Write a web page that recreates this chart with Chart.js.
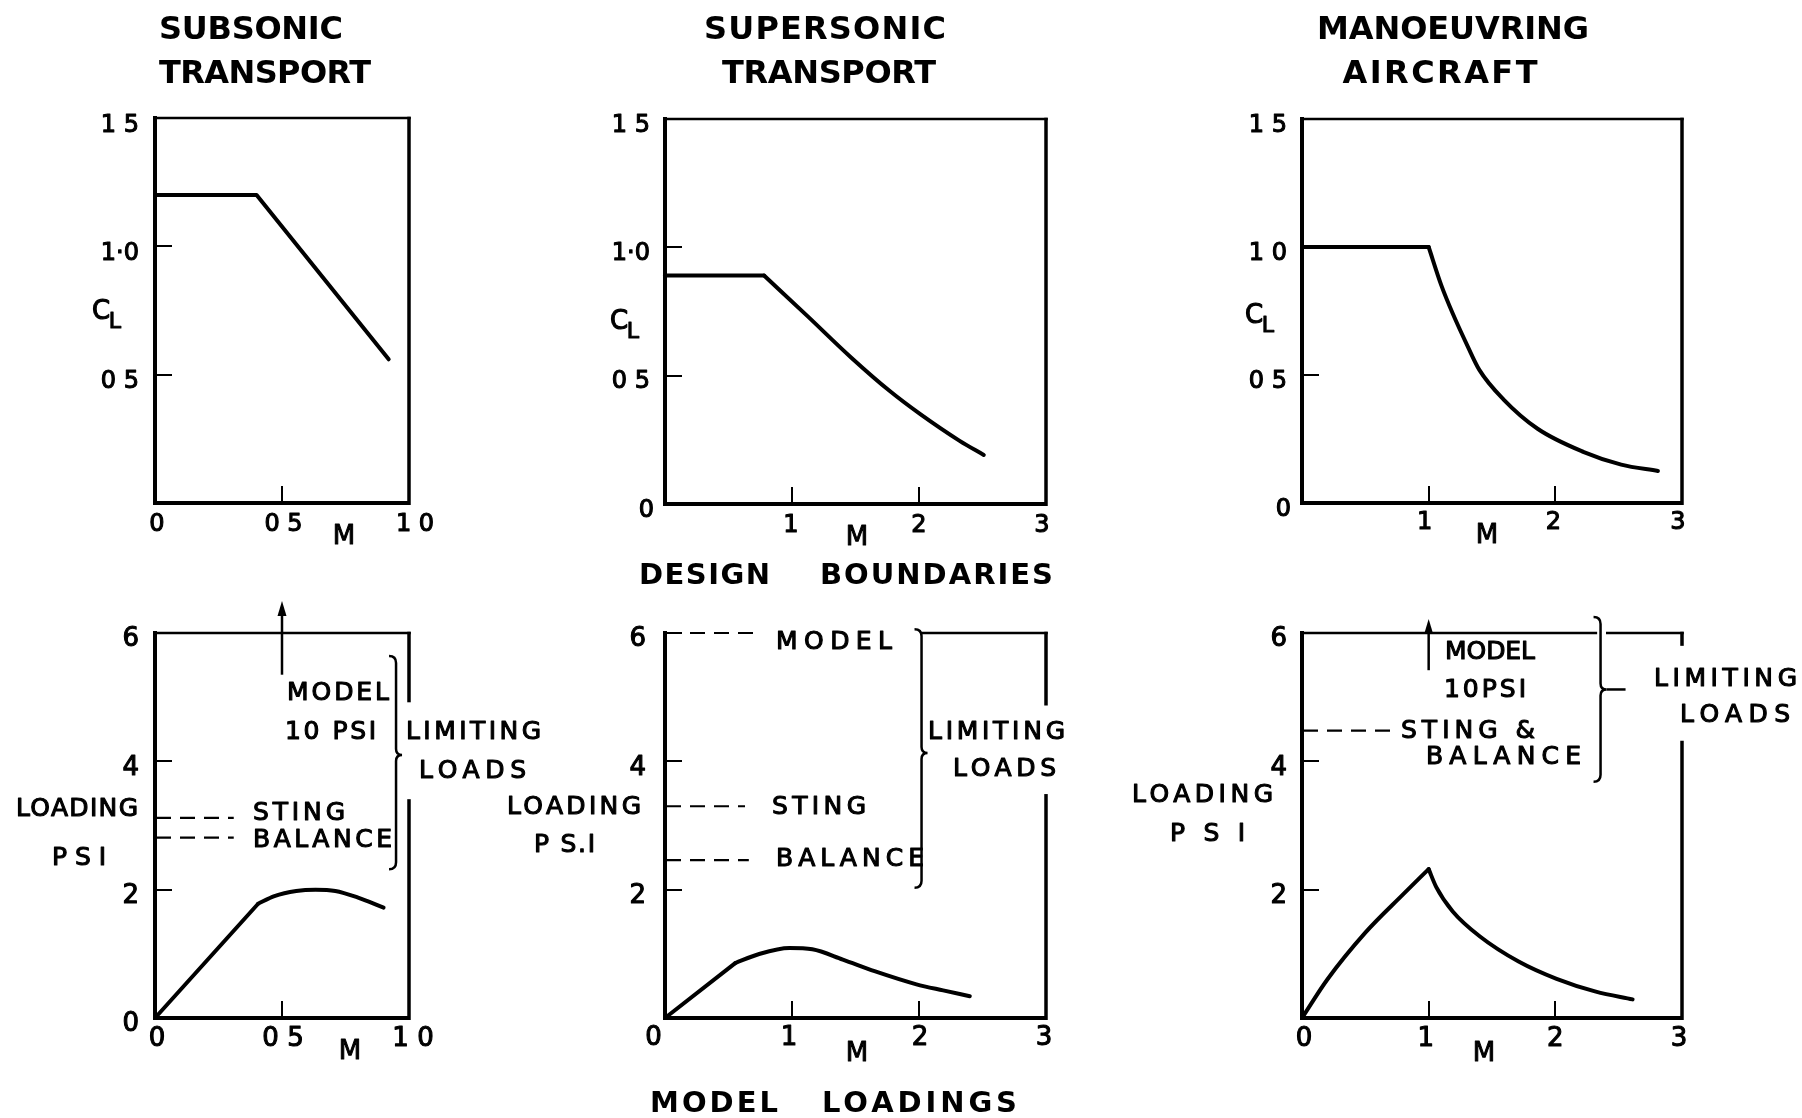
<!DOCTYPE html>
<html>
<head>
<meta charset="utf-8">
<script src="https://cdn.jsdelivr.net/npm/chart.js@4/dist/chart.umd.min.js"></script>
<style>
  html, body { margin: 0; padding: 0; background: #fff; }
  #sheet { position: relative; width: 1802px; height: 1118px; overflow: hidden; background: #fff; }
  #sheet canvas { position: absolute; left: 0; top: 0; }
</style>
</head>
<body>
<div id="sheet"></div>
<script>
// ---------------- Design boundaries: C_L against Mach number ----------------
const subsonicBoundaryM  = [0, 0.40, 0.92];
const subsonicBoundaryCL = [1.20, 1.20, 0.56];

const supersonicFlatM  = [0, 0.78];
const supersonicFlatCL = [0.89, 0.89];
const supersonicFallM  = [0.78, 1.12, 1.465, 1.77, 2.01, 2.32, 2.51];
const supersonicFallCL = [0.89, 0.733, 0.571, 0.44, 0.35, 0.246, 0.191];

const manoeuvreFlatM  = [0, 1.0];
const manoeuvreFlatCL = [1.0, 1.0];
const manoeuvreFallM  = [1.0, 1.10, 1.19, 1.31, 1.40, 1.59, 1.86, 2.22, 2.52, 2.81];
const manoeuvreFallCL = [1.0, 0.85, 0.74, 0.61, 0.52, 0.405, 0.29, 0.20, 0.15, 0.125];

// ---------------- Model loadings (psi) against Mach number ----------------
const subsonicRiseM     = [0, 0.406];
const subsonicRiseLoad  = [0, 1.78];
const subsonicCrestM    = [0.406, 0.47, 0.556, 0.632, 0.71, 0.797, 0.90];
const subsonicCrestLoad = [1.78, 1.90, 1.98, 2.00, 1.98, 1.88, 1.72];

const supersonicRiseM     = [0, 0.553];
const supersonicRiseLoad  = [0, 0.856];
const supersonicCrestM    = [0.553, 0.736, 0.98, 1.16, 1.40, 1.65, 1.98, 2.19, 2.40];
const supersonicCrestLoad = [0.856, 0.994, 1.09, 1.07, 0.91, 0.73, 0.525, 0.43, 0.34];

const manoeuvreRiseM    = [0, 0.2, 0.5, 0.8, 1.0];
const manoeuvreRiseLoad = [0, 0.6, 1.33, 1.93, 2.32];
const manoeuvreDropM    = [1.0, 1.06, 1.19, 1.405, 1.71, 2.01, 2.32, 2.61];
const manoeuvreDropLoad = [2.32, 2.04, 1.66, 1.27, 0.88, 0.61, 0.41, 0.29];

// Limiting loads (psi): dashed levels and where each dash run ends (M)
const subsonicLimitLoads  = [3.12, 2.81];          // sting, balance
const subsonicLimitEndM   = [0.31, 0.31];
const supersonicLimitLoads = [6.0, 3.3, 2.46];     // model, sting, balance
const supersonicLimitEndM  = [0.70, 0.63, 0.66];
const manoeuvreLimitLoads  = [4.48];               // sting & balance
const manoeuvreLimitEndM   = [0.71];

// Model limit (10 psi) is off scale: arrow runs from / to these loads
const subsonicModelArrow  = { m: 0.5, from: 5.35, to: 6.5 };
const manoeuvreModelArrow = { m: 1.0, from: 5.42, to: 6.22 };

// Braces grouping the limiting loads: top, centre, bottom (psi) at M
const subsonicBrace  = { m: 0.949, top: 5.64, mid: 4.10, bottom: 2.32 };
const supersonicBrace = { m: 2.02, top: 6.06, mid: 4.13, bottom: 2.03 };
const manoeuvreBrace  = { m: 2.357, top: 6.25, mid: 5.12, bottom: 3.68 };

// Tick values and their printed labels
const clTicksSub = [0.5, 1.0, 1.5];          const clTickTextSub = ['0 5', '1·0', '1 5'];
const clTicksSup = [0, 0.5, 1.0, 1.5];       const clTickTextSup = ['0', '0 5', '1·0', '1 5'];
const clTicksMan = [0, 0.5, 1.0, 1.5];       const clTickTextMan = ['0', '0 5', '1 0', '1 5'];
const machTicksSub = [0, 0.5, 1.0];          const machTickTextSub = ['0', '0 5', '1 0'];
const machTicksSup = [1, 2, 3];              const machTickTextSup = ['1', '2', '3'];
const loadTicksSub = [0, 2, 4, 6];           const loadTickTextSub = ['0', '2', '4', '6'];
const loadTicks = [2, 4, 6];                 const loadTickText = ['2', '4', '6'];
const machTicksLoad = [0, 1, 2, 3];          const machTickTextLoad = ['0', '1', '2', '3'];

// ---------------- drawing helpers ----------------
const W = 1802, H = 1118;
const FONT = '"DejaVu Sans", "Liberation Sans", sans-serif';

function pts(xs, ys) { return xs.map((x, i) => ({ x, y: ys[i] })); }

function text(ctx, s, cx, cy, o) {
  o = o || {};
  const size = o.size || 25;
  ctx.save();
  ctx.font = (o.weight || 'normal') + ' ' + size + 'px ' + FONT;
  ctx.fillStyle = '#000';
  ctx.strokeStyle = '#000';
  ctx.lineJoin = 'round';
  ctx.textBaseline = 'alphabetic';
  ctx.textAlign = 'left';
  if ('letterSpacing' in ctx) ctx.letterSpacing = '0px';
  const base = ctx.measureText(s).width;
  let ls = 0;
  if (o.w && s.length > 1 && ('letterSpacing' in ctx)) ls = (o.w - base) / (s.length - 1);
  const total = base + ls * (s.length - 1);
  let x;
  if (o.align === 'right') x = cx - total;
  else if (o.align === 'left') x = cx;
  else x = cx - total / 2;
  if (ls) ctx.letterSpacing = ls + 'px';
  const y = cy + size * 0.3645;
  ctx.fillText(s, x, y);
  if (o.stroke) { ctx.lineWidth = o.stroke; ctx.strokeText(s, x, y); }
  ctx.restore();
}

function seg(ctx, x0, y0, x1, y1) {
  ctx.beginPath(); ctx.moveTo(x0, y0); ctx.lineTo(x1, y1); ctx.stroke();
}

function makeDecor(p) {
  return {
    id: 'decor',
    afterDraw(chart) {
      const ctx = chart.ctx;
      const a = chart.chartArea;
      const sx = chart.scales.x, sy = chart.scales.y;
      const px = v => sx.getPixelForValue(v);
      const py = v => sy.getPixelForValue(v);
      ctx.save();
      ctx.strokeStyle = '#000';
      ctx.fillStyle = '#000';
      ctx.lineCap = 'butt';

      // upper and right frame edges (broken where labels cross them)
      ctx.lineWidth = 2.5;
      (p.topEdge || [[0, p.xMax]]).forEach(([u0, u1]) => {
        const x0 = u0 === 0 ? a.left - 2 : px(u0);
        const x1 = u1 === p.xMax ? a.right + 1.75 : px(u1);
        seg(ctx, x0, a.top, x1, a.top);
      });
      ctx.lineWidth = 3.5;
      (p.rightEdge || [[0, p.yMax]]).forEach(([v0, v1]) => {
        const y0 = v0 === 0 ? a.bottom + 2 : py(v0);
        const y1 = v1 === p.yMax ? a.top - 1.25 : py(v1);
        seg(ctx, a.right, y0, a.right, y1);
      });

      // dashed limiting-load levels
      if (p.levels) {
        ctx.lineWidth = 2.2;
        ctx.setLineDash([15, 9]);
        p.levels.forEach((v, i) => seg(ctx, a.left + 1, py(v), px(p.levelEnds[i]), py(v)));
        ctx.setLineDash([]);
      }

      // off-scale arrow
      if (p.arrow) {
        const x = px(p.arrow.m), yb = py(p.arrow.from), yt = py(p.arrow.to);
        ctx.lineWidth = 2.5;
        seg(ctx, x, yb, x, yt + 10);
        ctx.beginPath();
        ctx.moveTo(x, yt); ctx.lineTo(x - 4.5, yt + 15); ctx.lineTo(x + 4.5, yt + 15);
        ctx.closePath(); ctx.fill();
      }

      // brace grouping the limiting loads
      if (p.brace) {
        const b = p.brace;
        const x = px(b.m), y0 = py(b.top), ym = py(b.mid), y1 = py(b.bottom);
        const h = 7, c = 6;
        ctx.lineWidth = 2.5;
        ctx.beginPath();
        ctx.moveTo(x - h, y0);
        ctx.quadraticCurveTo(x, y0, x, y0 + h);
        ctx.lineTo(x, ym - c);
        ctx.quadraticCurveTo(x, ym, x + c, ym);
        ctx.quadraticCurveTo(x, ym, x, ym + c);
        ctx.lineTo(x, y1 - h);
        ctx.quadraticCurveTo(x, y1, x - h, y1);
        ctx.stroke();
        if (p.braceTail) seg(ctx, x + c, ym, x + p.braceTail, ym);
      }

      // tick labels
      const ty = p.yLabels;
      ty.values.forEach((v, i) => {
        const nx = (ty.nudge && ty.nudge[i]) || 0;
        text(ctx, ty.text[i], a.left - ty.gap + nx, py(v) + ty.dy, { size: p.tickSize, align: 'right', stroke: 1.1 });
      });
      const tx = p.xLabels;
      tx.values.forEach((v, i) => {
        const nx = (tx.nudge && tx.nudge[i]) || 0;
        text(ctx, tx.text[i], px(v) + nx, a.bottom + tx.dy, { size: p.tickSize, stroke: 1.1 });
      });

      // words
      (p.words || []).forEach(wd => text(ctx, wd.t, wd.x, wd.y, wd));
      ctx.restore();
    }
  };
}

function clLabel(cx, cy) {
  return [
    { t: 'C', x: cx, y: cy, size: 26, stroke: 1.1 },
    { t: 'L', x: cx + 14, y: cy + 10, size: 22, stroke: 1.1 }
  ];
}

const TITLE = { size: 32, weight: 'bold' };
const CAPTION = { size: 29, weight: 'bold' };
const NOTE = { size: 25, stroke: 1.1 };
const AXIS = { size: 26, stroke: 1.0 };
function w(t, x, y, width, style) { return Object.assign({ t, x, y, w: width }, style); }
function m(x, y) { return Object.assign({ t: 'M', x, y }, AXIS); }

const panels = [
  { // subsonic transport, design boundary
    box: [155, 118, 409, 503], xMax: 1, yMax: 1.5, xStep: 0.5, yStep: 0.5, tickSize: 24,
    series: [{ m: subsonicBoundaryM, v: subsonicBoundaryCL, smooth: false }],
    yLabels: { values: clTicksSub, text: clTickTextSub, gap: 16, dy: 5 },
    xLabels: { values: machTicksSub, text: machTickTextSub, nudge: [2, 1.5, 6], dy: 19 },
    words: [
      w('SUBSONIC', 251, 27, 184, TITLE),
      w('TRANSPORT', 265, 71, 212, TITLE),
      m(344, 535),
      ...clLabel(101, 310)
    ]
  },
  { // supersonic transport, design boundary
    box: [665, 119, 1046, 504], xMax: 3, yMax: 1.5, xStep: 1, yStep: 0.5, tickSize: 24,
    series: [
      { m: supersonicFlatM, v: supersonicFlatCL, smooth: false },
      { m: supersonicFallM, v: supersonicFallCL, smooth: true }
    ],
    yLabels: { values: clTicksSup, text: clTickTextSup, gap: 15, dy: 4, nudge: [4, 0, 0, 0] },
    xLabels: { values: machTicksSup, text: machTickTextSup, nudge: [-1, 0, -4], dy: 19 },
    words: [
      w('SUPERSONIC', 825, 27, 242, TITLE),
      w('TRANSPORT', 829, 71, 214, TITLE),
      w('DESIGN', 704.5, 573, 131, CAPTION),
      w('BOUNDARIES', 936.5, 573, 233, CAPTION),
      m(857, 536),
      ...clLabel(619, 320)
    ]
  },
  { // manoeuvring aircraft, design boundary
    box: [1302, 119, 1682, 503], xMax: 3, yMax: 1.5, xStep: 1, yStep: 0.5, tickSize: 24,
    series: [
      { m: manoeuvreFlatM, v: manoeuvreFlatCL, smooth: false },
      { m: manoeuvreFallM, v: manoeuvreFallCL, smooth: true }
    ],
    yLabels: { values: clTicksMan, text: clTickTextMan, gap: 15, dy: 4, nudge: [4, 0, 0, 0] },
    xLabels: { values: machTicksSup, text: machTickTextSup, nudge: [-4, -2, -4], dy: 17 },
    words: [
      w('MANOEUVRING', 1453, 27, 272, TITLE),
      w('AIRCRAFT', 1440, 71, 195, TITLE),
      m(1487, 534),
      ...clLabel(1254, 314)
    ]
  },
  { // subsonic transport, model loading
    box: [155, 633, 409, 1018], xMax: 1, yMax: 6, xStep: 0.5, yStep: 2, tickSize: 26,
    series: [
      { m: subsonicRiseM, v: subsonicRiseLoad, smooth: false },
      { m: subsonicCrestM, v: subsonicCrestLoad, smooth: true }
    ],
    levels: subsonicLimitLoads, levelEnds: subsonicLimitEndM,
    arrow: subsonicModelArrow, brace: subsonicBrace,
    rightEdge: [[0, 3.41], [4.92, 6]],
    yLabels: { values: loadTicksSub, text: loadTickTextSub, gap: 16, dy: 4 },
    xLabels: { values: machTicksSub, text: machTickTextSub, nudge: [2, 1, 4], dy: 19 },
    words: [
      w('MODEL', 338, 691, 102, NOTE),
      w('10 PSI', 330.5, 730, 91, NOTE),
      w('STING', 299, 811, 92, NOTE),
      w('BALANCE', 322.5, 838, 139, NOTE),
      w('LIMITING', 473.5, 730, 135, NOTE),
      w('LOADS', 472.5, 769, 107, NOTE),
      w('LOADING', 77, 807, 122, NOTE),
      w('PSI', 79, 856, 54, NOTE),
      m(350, 1050)
    ]
  },
  { // supersonic transport, model loading
    box: [665, 633, 1046, 1018], xMax: 3, yMax: 6, xStep: 1, yStep: 2, tickSize: 26,
    series: [
      { m: supersonicRiseM, v: supersonicRiseLoad, smooth: false },
      { m: supersonicCrestM, v: supersonicCrestLoad, smooth: true }
    ],
    levels: supersonicLimitLoads, levelEnds: supersonicLimitEndM,
    brace: supersonicBrace,
    topEdge: [[2.01, 3]], rightEdge: [[0, 3.49], [4.87, 6]],
    yLabels: { values: loadTicks, text: loadTickText, gap: 19, dy: 4 },
    xLabels: { values: machTicksLoad, text: machTickTextLoad, nudge: [-11.5, -3, 1, -2], dy: 18 },
    words: [
      w('MODEL', 834, 640, 116, NOTE),
      w('STING', 819, 805, 94, NOTE),
      w('BALANCE', 850, 857, 148, NOTE),
      w('LIMITING', 996.5, 730, 137, NOTE),
      w('LOADS', 1004.5, 767, 103, NOTE),
      w('LOADING', 574, 805, 134, NOTE),
      w('P S.I', 564.5, 843, 61, NOTE),
      m(857, 1052),
      w('MODEL', 714, 1101, 128, CAPTION),
      w('LOADINGS', 919.5, 1101, 195, CAPTION)
    ]
  },
  { // manoeuvring aircraft, model loading
    box: [1302, 633, 1682, 1018], xMax: 3, yMax: 6, xStep: 1, yStep: 2, tickSize: 26,
    series: [
      { m: manoeuvreRiseM, v: manoeuvreRiseLoad, smooth: true },
      { m: manoeuvreDropM, v: manoeuvreDropLoad, smooth: true }
    ],
    levels: manoeuvreLimitLoads, levelEnds: manoeuvreLimitEndM,
    arrow: manoeuvreModelArrow, brace: manoeuvreBrace, braceTail: 25,
    topEdge: [[0, 2.33], [2.40, 3]], rightEdge: [[0, 4.32], [5.8, 6]],
    yLabels: { values: loadTicks, text: loadTickText, gap: 15, dy: 4 },
    xLabels: { values: machTicksLoad, text: machTickTextLoad, nudge: [2, -3, 0, -3], dy: 19 },
    words: [
      w('MODEL', 1490, 650, 90, NOTE),
      w('10PSI', 1485, 688, 82, NOTE),
      w('STING &', 1468, 729, 134, NOTE),
      w('BALANCE', 1503.5, 755, 155, NOTE),
      w('LIMITING', 1725.5, 677, 143, NOTE),
      w('LOADS', 1735, 713, 110, NOTE),
      w('LOADING', 1202.5, 793, 141, NOTE),
      w('P S I', 1207.5, 832, 75, NOTE),
      m(1484, 1052)
    ]
  }
];

const sheet = document.getElementById('sheet');

panels.forEach(p => {
  const cv = document.createElement('canvas');
  cv.width = W; cv.height = H;
  cv.style.width = W + 'px'; cv.style.height = H + 'px';
  sheet.appendChild(cv);
  const [l, t, r, b] = p.box;

  const axis = (max, step) => ({
    type: 'linear', min: 0, max: max,
    ticks: { display: false, stepSize: step },
    grid: { display: true, drawOnChartArea: false, drawTicks: true, tickLength: -17, tickWidth: 2, lineWidth: 2, tickColor: '#000', color: '#000' },
    border: { display: true, width: 4, color: '#000' }
  });
  const xAxis = axis(p.xMax, p.xStep);
  xAxis.afterFit = s => { s.height = 0; };
  const yAxis = axis(p.yMax, p.yStep);
  yAxis.afterFit = s => { s.width = 0; };

  new Chart(cv, {
    type: 'scatter',
    data: {
      datasets: p.series.map(s => ({
        data: pts(s.m, s.v),
        showLine: true,
        borderColor: '#000',
        borderWidth: 4,
        borderCapStyle: 'round',
        borderJoinStyle: 'round',
        pointRadius: 0,
        pointHoverRadius: 0,
        fill: false,
        tension: 0,
        cubicInterpolationMode: s.smooth ? 'monotone' : 'default',
        clip: false
      }))
    },
    options: {
      responsive: false,
      devicePixelRatio: 1,
      animation: false,
      events: [],
      layout: { padding: { left: l, top: t, right: W - r, bottom: H - b } },
      plugins: { legend: { display: false }, tooltip: { enabled: false }, title: { display: false } },
      scales: { x: xAxis, y: yAxis }
    },
    plugins: [makeDecor(p)]
  });
});
</script>
</body>
</html>
